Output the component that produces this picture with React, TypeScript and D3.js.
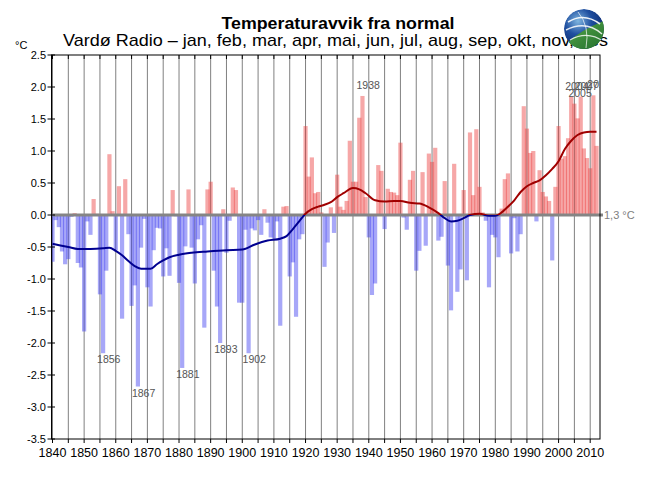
import React from "react";
import * as d3 from "d3";

const startYear = 1840;
const anomalies: number[] = [
  -0.73, -0.08, -0.19, -0.57, -0.77, -0.69, -0.03, 0.03, -0.75, -0.82,
  -1.82, -0.10, -0.31, 0.25, 0.02, -1.24, -2.16, -0.87, 0.95, 0.06,
  -0.55, 0.45, -1.62, 0.56, -0.30, -1.42, -1.10, -2.68, -0.51, -0.06,
  -1.13, -1.43, -0.55, -0.20, -0.21, -0.96, -0.52, -0.95, 0.39, -0.02,
  -1.06, -2.39, -0.49, 0.40, -0.51, -1.07, -0.38, -0.16, -1.76, 0.40,
  0.52, -0.87, -1.43, -2.00, 0.09, -0.59, -0.09, 0.43, 0.39, -1.37,
  -1.37, -0.23, -2.16, -0.21, -0.24, -0.08, -0.31, 0.09, -0.12, -0.35,
  -0.37, -0.10, -1.73, 0.13, 0.14, -0.96, -0.74, -1.59, -0.38, -0.30,
  1.39, 0.60, 0.90, 0.34, 0.36, 0.04, -0.81, -0.43, 0.12, -0.28,
  0.63, 0.13, 0.08, 0.22, 1.16, 0.52, 0.52, 1.52, 1.86, 0.28,
  -0.35, -1.25, -1.07, 0.78, 0.69, -0.22, 0.41, 0.36, 0.35, 0.31,
  1.13, -0.04, -0.23, 0.55, 0.69, -0.87, -0.56, 0.67, -0.48, 0.96,
  0.83, 1.05, -0.40, -0.34, 0.53, -0.79, -1.49, 0.80, -1.20, -0.85,
  0.39, -1.02, 1.29, 0.31, 1.34, 0.44, 0.04, -0.09, -1.13, -0.31,
  -0.35, -0.66, 0.10, 0.56, 0.65, -0.60, -0.05, -0.57, -0.30, 1.70,
  1.35, 0.97, 1.00, -0.10, 0.70, 0.36, 0.29, 0.22, -0.71, 0.44,
  1.39, 0.88, 0.92, 1.20, 1.85, 1.74, 1.51, 1.85, 1.04, 0.89,
  0.73, 1.87, 1.08,
];
const years: number[] = anomalies.map((_, i) => startYear + i);

const smoothYears: number[] = [
  1840, 1845, 1848, 1852, 1856, 1858, 1860, 1862, 1864, 1866, 1868, 1871,
  1873, 1875, 1877, 1880, 1884, 1889, 1895, 1900, 1904, 1908, 1912, 1914,
  1916, 1918, 1920, 1922, 1924, 1926, 1928, 1930, 1932, 1935, 1937, 1939,
  1942, 1945, 1948, 1950, 1953, 1956, 1959, 1962, 1964, 1966, 1968, 1970,
  1972, 1975, 1978, 1980, 1982, 1984, 1986, 1988, 1990, 1992, 1994, 1996,
  1998, 2000, 2002, 2004, 2006, 2008, 2010, 2012,
];
const smoothValues: number[] = [
  -0.45, -0.5, -0.53, -0.53, -0.52, -0.51, -0.56, -0.63, -0.72, -0.8, -0.84, -0.84,
  -0.77, -0.71, -0.66, -0.62, -0.59, -0.57, -0.55, -0.54, -0.46, -0.4, -0.37, -0.33,
  -0.22, -0.1, 0.02, 0.09, 0.13, 0.16, 0.2, 0.28, 0.34, 0.42, 0.4, 0.34,
  0.23, 0.21, 0.22, 0.22, 0.19, 0.18, 0.12, 0.03, -0.05, -0.1, -0.09, -0.05,
  0.0, 0.02, -0.01, -0.01, 0.04, 0.13, 0.23, 0.36, 0.45, 0.5, 0.54, 0.62,
  0.72, 0.84, 1.03, 1.16, 1.25, 1.29, 1.3, 1.3,
];

const yTicks: number[] = [2.5, 2.0, 1.5, 1.0, 0.5, 0.0, -0.5, -1.0, -1.5, -2.0, -2.5, -3.0, -3.5];
const xLabelYears: number[] = [1840, 1850, 1860, 1870, 1880, 1890, 1900, 1910, 1920, 1930, 1940, 1950, 1960, 1970, 1980, 1990, 2000, 2010];
const gridYears: number[] = d3.range(1840, 2014, 5);
const warmLabels: number[] = [1938, 2004, 2005, 2007, 2011];
const coldLabels: number[] = [1856, 1867, 1881, 1893, 1902];
const endLabel = "1,3 °C";
const title = "Temperaturavvik fra normal";
const subtitle = "Vardø Radio – jan, feb, mar, apr, mai, jun, jul, aug, sep, okt, nov, des";

export default function App() {
  const left = 52.5, right = 600, top = 55, bottom = 439;
  const x = d3.scaleLinear().domain([1840, 2013.1]).range([left, right]);
  const y = d3.scaleLinear().domain([-3.5, 2.5]).range([bottom, top]);
  const bw = 4.2;
  const y0 = y(0);
  const pts: [number, number][] = smoothYears.map((yr, i) => [yr, smoothValues[i]]);
  const line = d3
    .line<[number, number]>()
    .x((d) => x(d[0]))
    .y((d) => y(d[1]))
    .curve(d3.curveMonotoneX);
  const path = line(pts) || "";
  const sans = "'Liberation Sans', Arial, sans-serif";
  const narrow = "'Liberation Sans Narrow', 'Liberation Sans', Arial, sans-serif";
  const valOf = (yr: number) => anomalies[yr - startYear];

  return (
    <svg
      width={650}
      height={500}
      style={{ position: "absolute", left: 0, top: 0, background: "#fff" }}
    >
      <defs>
        <clipPath id="plot">
          <rect x={left - 1} y={top} width={right - left + 1} height={bottom - top} />
        </clipPath>
        <clipPath id="above">
          <rect x={left - 1} y={top - 5} width={right - left + 5} height={y0 - top + 5} />
        </clipPath>
        <clipPath id="below">
          <rect x={left - 1} y={y0} width={right - left + 5} height={bottom - y0} />
        </clipPath>
        <radialGradient id="globe" cx="35%" cy="30%" r="75%">
          <stop offset="0%" stopColor="#7fb6e0" />
          <stop offset="45%" stopColor="#1f4fa0" />
          <stop offset="100%" stopColor="#0b2366" />
        </radialGradient>
        <linearGradient id="green" x1="0" y1="0" x2="1" y2="1">
          <stop offset="0%" stopColor="#5fae4a" />
          <stop offset="100%" stopColor="#1d6b2c" />
        </linearGradient>
        <clipPath id="logoclip">
          <circle cx={584} cy={29} r={20} />
        </clipPath>
      </defs>

      {/* titles */}
      <text x={338} y={29} textAnchor="middle" fontFamily={sans} fontWeight="bold" fontSize={17} fill="#000" textLength={233} lengthAdjust="spacingAndGlyphs">
        {title}
      </text>
      <text x={63} y={46} fontFamily={sans} fontSize={17} fill="#000" textLength={545} lengthAdjust="spacingAndGlyphs">
        {subtitle}
      </text>

      {/* logo */}
      <g clipPath="url(#logoclip)">
        <circle cx={584} cy={29} r={20} fill="url(#globe)" />
        <path d="M 566 44 Q 580 30 606 20 L 606 52 L 560 52 Z" fill="url(#green)" />
        <path d="M 568 22 Q 584 12 600 24" stroke="#fff" strokeWidth={1.6} fill="none" opacity={0.9} />
        <path d="M 566 30 Q 586 20 602 34" stroke="#fff" strokeWidth={1.4} fill="none" opacity={0.85} />
        <path d="M 570 40 Q 588 30 604 42" stroke="#fff" strokeWidth={1.2} fill="none" opacity={0.8} />
        <path d="M 578 12 Q 590 26 586 48" stroke="#fff" strokeWidth={1} fill="none" opacity={0.7} />
      </g>

      {/* unit */}
      <text x={15} y={49} fontFamily={sans} fontSize={11} fill="#000">°C</text>

      {/* grid */}
      {gridYears.map((g) => (
        <line key={"g" + g} x1={x(g)} x2={x(g)} y1={top} y2={bottom} stroke="#808080" strokeWidth={1} />
      ))}

      {/* bars */}
      <g clipPath="url(#plot)">
        {years.map((yr, i) => {
          const v = anomalies[i];
          const ya = y(Math.max(v, 0));
          const yb = y(Math.min(v, 0));
          return (
            <rect
              key={"b" + yr}
              x={x(yr) - bw / 2}
              y={ya}
              width={bw}
              height={Math.max(yb - ya, 0.5)}
              fill={v >= 0 ? "rgb(236,60,60)" : "rgb(60,60,240)"}
              fillOpacity={0.45}
            />
          );
        })}
      </g>

      {/* zero line */}
      <line x1={left} x2={603} y1={y0} y2={y0} stroke="#858585" strokeWidth={3} />
      <text x={604} y={219} fontFamily={sans} fontSize={11} fill="#808080">{endLabel}</text>

      {/* smoothed curve */}
      <path d={path} fill="none" stroke="#a00000" strokeWidth={2} clipPath="url(#above)" />
      <path d={path} fill="none" stroke="#000090" strokeWidth={2} clipPath="url(#below)" />

      {/* extreme labels */}
      <g clipPath="url(#plot)" fontFamily={sans} fontSize={10.5} fill="#555">
        {warmLabels.map((yr) => (
          <text key={"w" + yr} x={x(yr) - 6} y={y(valOf(yr)) - 7}>{yr}</text>
        ))}
        {coldLabels.map((yr) => (
          <text key={"c" + yr} x={x(yr) - 6} y={y(valOf(yr)) + 10}>{yr}</text>
        ))}
      </g>

      {/* frame */}
      <rect x={51.5} y={top} width={right - 51.5} height={bottom - top} fill="none" stroke="#000" strokeWidth={1} />

      {/* x ticks */}
      {gridYears.map((g) => (
        <g key={"t" + g}>
          <line x1={x(g)} x2={x(g)} y1={top} y2={top + 4} stroke="#000" />
          <line x1={x(g)} x2={x(g)} y1={bottom} y2={bottom + 4} stroke="#000" />
        </g>
      ))}
      {xLabelYears.map((yr) => (
        <text key={"xl" + yr} x={x(yr)} y={457} textAnchor="middle" fontFamily={narrow} fontSize={12.5} fill="#000">
          {yr}
        </text>
      ))}

      {/* y ticks */}
      {yTicks.map((t) => (
        <g key={"yt" + t}>
          <line x1={47.5} x2={55} y1={y(t)} y2={y(t)} stroke="#000" />
          <text x={46} y={y(t) + 4} textAnchor="end" fontFamily={sans} fontSize={11} fill="#000">
            {t.toFixed(1)}
          </text>
        </g>
      ))}
    </svg>
  );
}
